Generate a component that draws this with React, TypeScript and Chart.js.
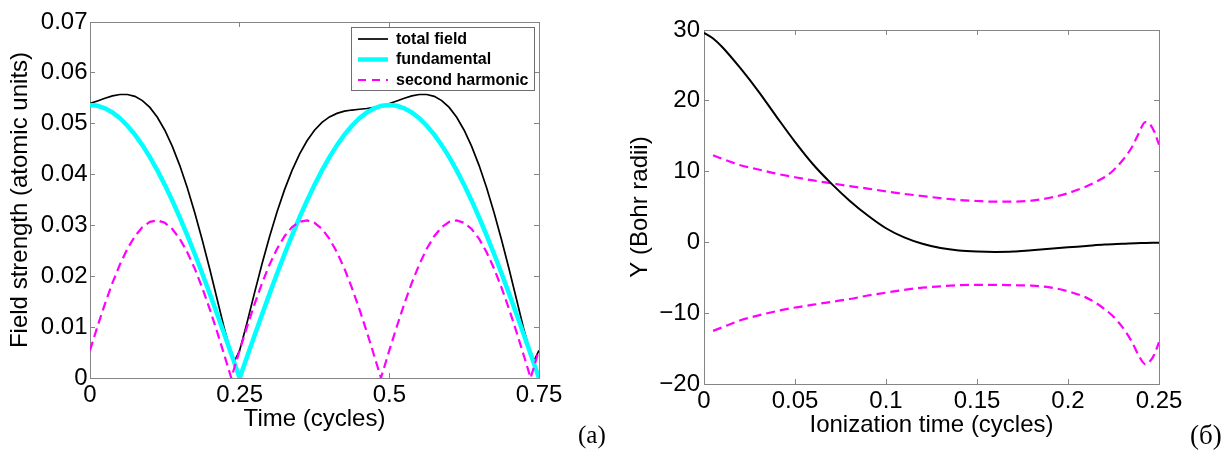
import { useEffect, useRef } from "react";
import { Chart, registerables } from "chart.js";

Chart.register(...registerables);

// ---------------- Panel (a): field strength ----------------
const timeA = [
  0, 0.0125, 0.025, 0.0375, 0.05, 0.0625, 0.075, 0.0875, 0.1, 0.1125, 0.125, 0.1375, 0.15, 0.1625, 0.175, 0.1875, 0.2, 0.2125, 0.225,
  0.236, 0.2375, 0.2425,
  0.25, 0.2625, 0.275, 0.2875, 0.3, 0.3125, 0.325, 0.3375, 0.35, 0.3625, 0.375, 0.3875, 0.4, 0.4125, 0.425, 0.4375, 0.45, 0.4625, 0.475,
  0.486, 0.4875,
  0.5, 0.5125, 0.525, 0.5375, 0.55, 0.5625, 0.575, 0.5875, 0.6, 0.6125, 0.625, 0.6375, 0.65, 0.6625, 0.675, 0.6875, 0.7, 0.7125, 0.725,
  0.736, 0.7375, 0.7425, 0.75,
];

const totalField = [
  0.05397, 0.05448, 0.05501, 0.05546, 0.05574, 0.05574, 0.05538, 0.05455, 0.0532, 0.05126, 0.04872, 0.04555, 0.04177, 0.0374, 0.03251, 0.02715, 0.02142, 0.01544, 0.00942,
  0.00472, 0.00426, 0.00358,
  0.00543, 0.01097, 0.01684, 0.0225, 0.02782, 0.03269, 0.03704, 0.04083, 0.04404, 0.04665, 0.04872, 0.05026, 0.05134, 0.05203, 0.05246, 0.05269, 0.05284, 0.05299, 0.05321,
  0.05349, 0.05353,
  0.05397, 0.05448, 0.05501, 0.05546, 0.05574, 0.05574, 0.05538, 0.05455, 0.0532, 0.05126, 0.04872, 0.04555, 0.04177, 0.0374, 0.03251, 0.02715, 0.02142, 0.01544, 0.00942,
  0.00472, 0.00426, 0.00358, 0.00543,
];

const fundamental = [
  0.0537, 0.05353, 0.05304, 0.05222, 0.05107, 0.04961, 0.04785, 0.04578, 0.04344, 0.04083, 0.03797, 0.03487, 0.03156, 0.02806, 0.02438, 0.02055, 0.01659, 0.01253, 0.0084,
  0.00472, 0.00422, 0.00253,
  0, 0.00422, 0.0084, 0.01253, 0.01659, 0.02055, 0.02438, 0.02806, 0.03156, 0.03487, 0.03797, 0.04083, 0.04344, 0.04578, 0.04785, 0.04961, 0.05107, 0.05222, 0.05304,
  0.05349, 0.05353,
  0.0537, 0.05353, 0.05304, 0.05222, 0.05107, 0.04961, 0.04785, 0.04578, 0.04344, 0.04083, 0.03797, 0.03487, 0.03156, 0.02806, 0.02438, 0.02055, 0.01659, 0.01253, 0.0084,
  0.00472, 0.00422, 0.00253, 0,
];

const secondHarmonic = [
  0.00543, 0.01013, 0.01459, 0.01869, 0.02233, 0.02542, 0.02788, 0.02966, 0.03071, 0.03099, 0.03052, 0.0293, 0.02736, 0.02473, 0.0215, 0.01774, 0.01355, 0.00902, 0.00427,
  0, 0.00058, 0.00253,
  0.00543, 0.01013, 0.01459, 0.01869, 0.02233, 0.02542, 0.02788, 0.02966, 0.03071, 0.03099, 0.03052, 0.0293, 0.02736, 0.02473, 0.0215, 0.01774, 0.01355, 0.00902, 0.00427,
  0, 0.00058,
  0.00543, 0.01013, 0.01459, 0.01869, 0.02233, 0.02542, 0.02788, 0.02966, 0.03071, 0.03099, 0.03052, 0.0293, 0.02736, 0.02473, 0.0215, 0.01774, 0.01355, 0.00902, 0.00427,
  0, 0.00058, 0.00253, 0.00543,
];

const xTicksA = [0, 0.25, 0.5, 0.75];
const xTickLabelsA = ["0", "0.25", "0.5", "0.75"];
const yTicksA = [0, 0.01, 0.02, 0.03, 0.04, 0.05, 0.06, 0.07];
const yTickLabelsA = ["0", "0.01", "0.02", "0.03", "0.04", "0.05", "0.06", "0.07"];
const legendLabelsA = ["total field", "fundamental", "second harmonic"];

// ---------------- Panel (б): Y vs ionization time ----------------
const timeB = [
  0, 0.005, 0.01, 0.02, 0.03, 0.04, 0.05, 0.06, 0.07, 0.08, 0.09, 0.1, 0.11, 0.12, 0.13, 0.14, 0.15, 0.16, 0.17, 0.18, 0.19, 0.2, 0.21, 0.22, 0.23, 0.24, 0.25,
];
const yCentral = [
  29.6, 28.8, 27.6, 24.6, 21.3, 17.7, 14.2, 11.0, 8.3, 5.9, 3.8, 2.0, 0.7, -0.2, -0.8, -1.15, -1.3, -1.35, -1.3, -1.1, -0.9, -0.7, -0.5, -0.3, -0.2, -0.1, -0.05,
];

const timeBDash = [
  0.005, 0.01, 0.02, 0.03, 0.04, 0.05, 0.06, 0.07, 0.08, 0.09, 0.1, 0.11, 0.12, 0.13, 0.14, 0.15, 0.16, 0.17, 0.18, 0.19, 0.2, 0.21,
  0.215, 0.22, 0.225, 0.23, 0.235, 0.2385, 0.2425, 0.245, 0.2475, 0.25,
];
const yUpper = [
  12.3, 11.8, 10.9, 10.3, 9.7, 9.2, 8.75, 8.35, 7.95, 7.6, 7.2, 6.85, 6.55, 6.25, 6.0, 5.85, 5.75, 5.75, 5.9, 6.3, 6.95, 7.9,
  8.5, 9.2, 10.2, 11.6, 13.4, 15.2, 17.0, 16.7, 15.6, 13.8,
];
const yLower = [
  -12.5, -12.0, -11.0, -10.3, -9.7, -9.2, -8.8, -8.4, -8.0, -7.5, -7.1, -6.7, -6.4, -6.2, -6.05, -6.0, -6.0, -6.05, -6.1, -6.35, -6.9, -7.8,
  -8.5, -9.4, -10.5, -12.0, -14.0, -15.8, -17.2, -16.8, -15.8, -14.1,
];

const xTicksB = [0, 0.05, 0.1, 0.15, 0.2, 0.25];
const xTickLabelsB = ["0", "0.05", "0.1", "0.15", "0.2", "0.25"];
const yTicksB = [-20, -10, 0, 10, 20, 30];
const yTickLabelsB = ["\u221220", "\u221210", "0", "10", "20", "30"];

// ---------------- styling ----------------
const SANS = "'Liberation Sans', Arial, Helvetica, sans-serif";
const SERIF = "'Liberation Serif', 'Times New Roman', serif";
const AXIS_GRAY = "#858585";

function pts(xs: number[], ys: number[]) {
  return xs.map((x, i) => ({ x, y: ys[i] }));
}

function axis(
  position: string,
  min: number,
  max: number,
  values: number[],
  labels: string[],
  show: boolean,
  size: number,
  labelPadding: number,
  title?: { text: string; pad: number }
): any {
  return {
    type: "linear",
    position,
    min,
    max,
    afterBuildTicks: (s: any) => {
      s.ticks = values.map((v) => ({ value: v }));
    },
    afterFit: (s: any) => {
      if (s.isHorizontal()) s.height = size;
      else s.width = size;
    },
    ticks: {
      display: show,
      padding: labelPadding,
      color: "#000",
      autoSkip: false,
      maxRotation: 0,
      minRotation: 0,
      font: { family: SANS, size: 24, lineHeight: 1 },
      callback: (_v: any, i: number) => labels[i],
    },
    grid: {
      drawOnChartArea: false,
      drawTicks: true,
      tickLength: -5,
      color: AXIS_GRAY,
      tickColor: AXIS_GRAY,
      lineWidth: 1,
    },
    border: { display: true, color: AXIS_GRAY, width: 1 },
    title: title
      ? {
          display: true,
          text: title.text,
          color: "#000",
          font: { family: SANS, size: 24, lineHeight: 1 },
          padding: position === "bottom" ? { top: 0, bottom: title.pad } : { top: title.pad, bottom: 0 },
        }
      : { display: false },
  };
}

function panelLabelPlugin(text: string, x: number, y: number, size: number) {
  return {
    id: "panelLabel",
    afterDraw(chart: any) {
      const ctx = chart.ctx;
      ctx.save();
      ctx.fillStyle = "#000";
      ctx.font = `${size}px ${SERIF}`;
      ctx.textBaseline = "alphabetic";
      ctx.textAlign = "left";
      ctx.fillText(text, x, y);
      ctx.restore();
    },
  };
}

const legendPlugin = {
  id: "boxLegend",
  afterDraw(chart: any) {
    const { ctx, chartArea } = chart;
    const w = 184;
    const h = 64;
    const x0 = Math.round(chartArea.right - 4 - w);
    const y0 = Math.round(chartArea.top + 5);
    ctx.save();
    ctx.fillStyle = "#fff";
    ctx.fillRect(x0, y0, w, h);
    ctx.strokeStyle = "#6e6e6e";
    ctx.lineWidth = 1;
    ctx.setLineDash([]);
    ctx.strokeRect(x0 + 0.5, y0 + 0.5, w - 1, h - 1);
    ctx.font = `bold 16px ${SANS}`;
    ctx.textBaseline = "middle";
    ctx.textAlign = "left";
    legendLabelsA.forEach((label, i) => {
      const ds = chart.data.datasets.find((d: any) => d.label === label);
      const y = y0 + 12 + i * 20.5;
      ctx.beginPath();
      ctx.setLineDash(ds.borderDash ? [8, 6] : []);
      ctx.strokeStyle = ds.borderColor;
      ctx.lineWidth = ds.borderWidth;
      ctx.moveTo(x0 + 7, y);
      ctx.lineTo(x0 + 37, y);
      ctx.stroke();
      ctx.setLineDash([]);
      ctx.fillStyle = "#000";
      ctx.fillText(label, x0 + 45, y + 0.5);
    });
    ctx.restore();
  },
};

function configA(): any {
  return {
    type: "line",
    data: {
      datasets: [
        {
          label: "total field",
          data: pts(timeA, totalField),
          borderColor: "#000000",
          borderWidth: 1.7,
          pointRadius: 0,
          tension: 0,
          order: 3,
          clip: 0,
        },
        {
          label: "fundamental",
          data: pts(timeA, fundamental),
          borderColor: "#00ffff",
          borderWidth: 4.5,
          pointRadius: 0,
          tension: 0,
          order: 2,
          clip: 0,
        },
        {
          label: "second harmonic",
          data: pts(timeA, secondHarmonic),
          borderColor: "#ff00ff",
          borderWidth: 2.2,
          borderDash: [9, 5],
          pointRadius: 0,
          tension: 0,
          order: 1,
          clip: 0,
        },
      ],
    },
    options: {
      animation: false,
      responsive: false,
      events: [],
      layout: { padding: { left: 0, right: 71, top: 22, bottom: 0 } },
      plugins: { legend: { display: false }, tooltip: { enabled: false } },
      scales: {
        x: axis("bottom", 0, 0.75, xTicksA, xTickLabelsA, true, 72, 10.4, { text: "Time (cycles)", pad: 18.6 }),
        x2: axis("top", 0, 0.75, xTicksA, xTickLabelsA, false, 0, 0),
        y: axis("left", 0, 0.07, yTicksA, yTickLabelsA, true, 90, 7.5, { text: "Field strength (atomic units)", pad: 8 }),
        y2: axis("right", 0, 0.07, yTicksA, yTickLabelsA, false, 0, 0),
      },
    },
    plugins: [legendPlugin, panelLabelPlugin("(a)", 578, 443, 25)],
  };
}

function configB(): any {
  return {
    type: "line",
    data: {
      datasets: [
        {
          label: "central",
          data: pts(timeB, yCentral),
          borderColor: "#000000",
          borderWidth: 2,
          pointRadius: 0,
          cubicInterpolationMode: "monotone",
          order: 1,
        },
        {
          label: "upper",
          data: pts(timeBDash, yUpper),
          borderColor: "#ff00ff",
          borderWidth: 2.2,
          borderDash: [9, 5],
          pointRadius: 0,
          cubicInterpolationMode: "monotone",
          order: 2,
        },
        {
          label: "lower",
          data: pts(timeBDash, yLower),
          borderColor: "#ff00ff",
          borderWidth: 2.2,
          borderDash: [9, 5],
          pointRadius: 0,
          cubicInterpolationMode: "monotone",
          order: 3,
        },
      ],
    },
    options: {
      animation: false,
      responsive: false,
      events: [],
      layout: { padding: { left: 0, right: 69, top: 30, bottom: 0 } },
      plugins: { legend: { display: false }, tooltip: { enabled: false } },
      scales: {
        x: axis("bottom", 0, 0.25, xTicksB, xTickLabelsB, true, 66, 10.7, { text: "Ionization time (cycles)", pad: 13 }),
        x2: axis("top", 0, 0.25, xTicksB, xTickLabelsB, false, 0, 0),
        y: axis("left", -20, 30, yTicksB, yTickLabelsB, true, 94, 9, { text: "Y (Bohr radii)", pad: 18 }),
        y2: axis("right", -20, 30, yTicksB, yTickLabelsB, false, 0, 0),
      },
    },
    plugins: [panelLabelPlugin("(\u0431)", 580, 444, 27)],
  };
}

function ChartCanvas({ make, left, width }: { make: () => any; left: number; width: number }) {
  const ref = useRef<HTMLCanvasElement>(null);
  useEffect(() => {
    if (!ref.current) return;
    const chart = new Chart(ref.current, make());
    return () => chart.destroy();
  }, []);
  return (
    <canvas
      ref={ref}
      width={width}
      height={450}
      style={{ position: "absolute", left, top: 0, width, height: 450, display: "block" }}
    />
  );
}

export default function App() {
  return (
    <div
      style={{
        position: "absolute",
        left: 0,
        top: 0,
        width: 1228,
        height: 450,
        background: "#fff",
        overflow: "hidden",
      }}
    >
      <ChartCanvas make={configA} left={0} width={610} />
      <ChartCanvas make={configB} left={610} width={618} />
    </div>
  );
}
